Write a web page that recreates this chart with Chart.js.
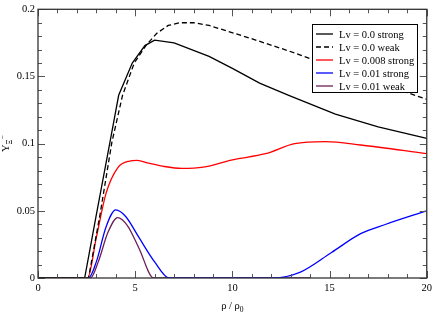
<!DOCTYPE html>
<html>
<head>
<meta charset="utf-8">
<script src="https://cdn.jsdelivr.net/npm/chart.js@4"></script>
<style>
  html, body { margin: 0; padding: 0; background: #fff; }
  #wrap { width: 436px; height: 317px; }
</style>
</head>
<body>
<div id="wrap"><canvas id="grafico" width="436" height="317"></canvas></div>
<script>
// datos
const xStrong0 = [0, 2.4, 3.0, 3.7, 4.15, 4.85, 5.5, 6.0, 7.0, 8.8, 10, 11.4, 12.9, 15.3, 17.5, 20];
const yStrong0 = [0, 0, 0.047, 0.101, 0.136, 0.160, 0.173, 0.177, 0.175, 0.165, 0.156, 0.145, 0.136, 0.122, 0.1125, 0.104];

const xWeak0 = [0, 2.6, 3.2, 3.8, 4.35, 4.95, 5.55, 6.1, 6.7, 7.3, 8.0, 8.8, 10.8, 12.9, 16, 20];
const yWeak0 = [0, 0, 0.048, 0.101, 0.136, 0.160, 0.173, 0.182, 0.188, 0.190, 0.190, 0.188, 0.179, 0.169, 0.153, 0.133];

const xStrong008 = [0, 2.55, 3.0, 3.5, 4.1, 4.7, 5.1, 5.7, 6.5, 7.4, 8.5, 10, 11.7, 13.2, 14.8, 16.6, 20];
const yStrong008 = [0, 0, 0.03, 0.063, 0.082, 0.087, 0.0875, 0.0855, 0.083, 0.0816, 0.0825, 0.088, 0.0925, 0.1, 0.1015, 0.099, 0.0925];

const xStrong01 = [0, 2.6, 3.0, 3.5, 4.0, 4.5, 5.2, 6.0, 6.75, 12.1, 13.5, 15.1, 16.6, 17.9, 20];
const yStrong01 = [0, 0, 0.012, 0.038, 0.0507, 0.046, 0.030, 0.012, 0, 0, 0.0044, 0.019, 0.033, 0.040, 0.050];

const xWeak01 = [0, 2.7, 3.1, 3.6, 4.1, 4.6, 5.2, 5.95, 14];
const yWeak01 = [0, 0, 0.012, 0.034, 0.045, 0.039, 0.022, 0, 0];

const xTicks = [0, 5, 10, 15, 20];
const yTicks = [0, 0.05, 0.1, 0.15, 0.2];

const fuente = '"Liberation Serif", "DejaVu Serif", serif';
const tam = 10.5;

function puntos(xs, ys) {
  return xs.map((x, i) => ({ x: x, y: ys[i] }));
}

function serie(label, xs, ys, color, opciones) {
  return Object.assign({
    label: label,
    data: puntos(xs, ys),
    borderColor: color,
    backgroundColor: color,
    borderWidth: 1.3,
    pointRadius: 0,
    showLine: true,
    fill: false
  }, opciones || {});
}

// marco, ticks hacia adentro, titulos y leyenda
const decoracion = {
  id: 'decoracion',
  afterDraw(chart) {
    const ctx = chart.ctx;
    const a = chart.chartArea;
    const sx = chart.scales.x;
    const sy = chart.scales.y;
    ctx.save();

    // ticks
    ctx.strokeStyle = '#555';
    ctx.lineWidth = 1;
    for (let v = 0; v <= 20; v++) {
      const px = Math.round(sx.getPixelForValue(v)) + 0.5;
      const len = v % 5 === 0 ? 7 : 4;
      ctx.beginPath();
      ctx.moveTo(px, a.bottom); ctx.lineTo(px, a.bottom - len);
      ctx.moveTo(px, a.top); ctx.lineTo(px, a.top + len);
      ctx.stroke();
    }
    for (let i = 0; i <= 20; i++) {
      const py = Math.round(sy.getPixelForValue(i * 0.01)) + 0.5;
      const len = i % 5 === 0 ? 7 : 4;
      ctx.beginPath();
      ctx.moveTo(a.left, py); ctx.lineTo(a.left + len, py);
      ctx.moveTo(a.right, py); ctx.lineTo(a.right - len, py);
      ctx.stroke();
    }

    // marco
    ctx.strokeStyle = '#333';
    ctx.lineWidth = 1.3;
    ctx.strokeRect(a.left, a.top, a.right - a.left, a.bottom - a.top);

    // titulo eje x
    ctx.fillStyle = '#000';
    ctx.textBaseline = 'alphabetic';
    ctx.font = tam + 'px ' + fuente;
    const t1 = 'ρ / ρ';
    const w1 = ctx.measureText(t1).width;
    ctx.font = '7.5px ' + fuente;
    const w2 = ctx.measureText('0').width;
    let x0 = (a.left + a.right) / 2 - (w1 + w2) / 2;
    ctx.font = tam + 'px ' + fuente;
    ctx.textAlign = 'left';
    ctx.fillText(t1, x0, 309);
    ctx.font = '7.5px ' + fuente;
    ctx.fillText('0', x0 + w1, 312);

    // titulo eje y
    ctx.translate(9, (a.top + a.bottom) / 2);
    ctx.rotate(-Math.PI / 2);
    ctx.font = tam + 'px ' + fuente;
    const wy = ctx.measureText('Y').width;
    ctx.font = '7.5px ' + fuente;
    const wx = ctx.measureText('Ξ').width;
    const wm = ctx.measureText('−').width;
    let y0 = -(wy + wx + wm) / 2;
    ctx.font = tam + 'px ' + fuente;
    ctx.fillText('Y', y0, 0);
    ctx.font = '7.5px ' + fuente;
    ctx.fillText('Ξ', y0 + wy, 3);
    ctx.fillText('−', y0 + wy + wx, -4);
    ctx.setTransform(1, 0, 0, 1, 0, 0);

    // leyenda
    const lx = 312, ly = 24, lw = 105, lh = 68;
    ctx.fillStyle = '#fff';
    ctx.fillRect(lx, ly, lw, lh);
    ctx.strokeStyle = '#000';
    ctx.lineWidth = 1;
    ctx.strokeRect(lx + 0.5, ly + 0.5, lw, lh);
    ctx.font = tam + 'px ' + fuente;
    ctx.textBaseline = 'middle';
    chart.data.datasets.forEach((ds, i) => {
      const yy = ly + 10 + i * 13;
      ctx.strokeStyle = ds.borderColor;
      ctx.lineWidth = 1.3;
      ctx.setLineDash(ds.borderDash || []);
      ctx.beginPath();
      ctx.moveTo(lx + 4, yy); ctx.lineTo(lx + 21, yy);
      ctx.stroke();
      ctx.setLineDash([]);
      ctx.fillStyle = '#000';
      ctx.fillText(ds.label, lx + 27, yy + 1);
    });
    ctx.restore();
  }
};

new Chart(document.getElementById('grafico').getContext('2d'), {
  type: 'scatter',
  data: {
    datasets: [
      serie('Lv = 0.0 strong', xStrong0, yStrong0, '#000000'),
      serie('Lv = 0.0 weak', xWeak0, yWeak0, '#000000', { borderDash: [5, 3] }),
      serie('Lv = 0.008 strong', xStrong008, yStrong008, '#ff0000', { cubicInterpolationMode: 'monotone' }),
      serie('Lv = 0.01 strong', xStrong01, yStrong01, '#0000ff', { cubicInterpolationMode: 'monotone' }),
      serie('Lv = 0.01 weak', xWeak01, yWeak01, '#6b1f55', { cubicInterpolationMode: 'monotone' })
    ]
  },
  options: {
    responsive: false,
    animation: false,
    layout: { padding: { top: 5, right: 7, left: 0, bottom: 0 } },
    plugins: { legend: { display: false }, tooltip: { enabled: false } },
    scales: {
      x: {
        type: 'linear', min: 0, max: 20,
        afterBuildTicks: s => { s.ticks = xTicks.map(v => ({ value: v })); },
        afterFit: s => { s.height = 39; },
        grid: { display: false, drawTicks: false },
        border: { display: false },
        ticks: { color: '#000', padding: 4, font: { family: fuente, size: tam } }
      },
      y: {
        type: 'linear', min: 0, max: 0.2,
        afterBuildTicks: s => { s.ticks = yTicks.map(v => ({ value: v })); },
        afterFit: s => { s.width = 38; },
        grid: { display: false, drawTicks: false },
        border: { display: false },
        ticks: {
          color: '#000', padding: 3, font: { family: fuente, size: tam },
          callback: v => String(+v.toFixed(2))
        }
      }
    }
  },
  plugins: [decoracion]
});
</script>
</body>
</html>
